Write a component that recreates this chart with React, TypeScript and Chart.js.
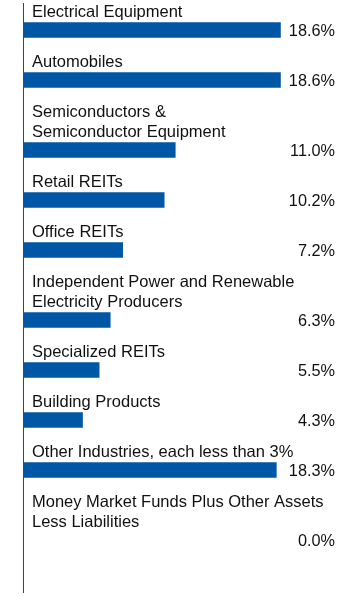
import React, { useEffect, useRef } from "react";
import { Chart, registerables } from "chart.js";

Chart.register(...registerables);

// ---- data ----
const categories: string[][] = [
  ["Electrical Equipment"],
  ["Automobiles"],
  ["Semiconductors &", "Semiconductor Equipment"],
  ["Retail REITs"],
  ["Office REITs"],
  ["Independent Power and Renewable", "Electricity Producers"],
  ["Specialized REITs"],
  ["Building Products"],
  ["Other Industries, each less than 3%"],
  ["Money Market Funds Plus Other Assets", "Less Liabilities"],
];
const values: number[] = [18.6, 18.6, 11.0, 10.2, 7.2, 6.3, 5.5, 4.3, 18.3, 0.0];
const valueLabels: string[] = ["18.6%", "18.6%", "11.0%", "10.2%", "7.2%", "6.3%", "5.5%", "4.3%", "18.3%", "0.0%"];

// ---- layout (in "label line" units) ----
const LABEL_OFFSET = 0.45;
const BAR_GAP = 0.9;
const BLOCK_GAP = 1.5;
const BOTTOM_SPACE = 1.45;
const X_MAX = 22.54;

function computeLayout() {
  const labelStarts: number[] = [];
  const barPositions: number[] = [];
  let start = 0;
  categories.forEach((lines) => {
    labelStarts.push(start);
    barPositions.push(start + LABEL_OFFSET + (lines.length - 1) + BAR_GAP);
    start += lines.length + BLOCK_GAP;
  });
  return { labelStarts, barPositions, total: start + BOTTOM_SPACE };
}

const LABEL_FONT = '16.5px "Liberation Sans", Arial, sans-serif';
const VALUE_FONT = '16.3px "Liberation Sans", Arial, sans-serif';

export default function App() {
  const ref = useRef<HTMLCanvasElement | null>(null);

  useEffect(() => {
    if (!ref.current) return;
    const { labelStarts, barPositions, total } = computeLayout();

    const labelPlugin = {
      id: "labels",
      afterDatasetsDraw(chart: any) {
        const { ctx, chartArea, scales } = chart;
        const y = scales.y;
        ctx.save();
        ctx.fillStyle = "#111";
        ctx.textBaseline = "middle";
        categories.forEach((lines, i) => {
          ctx.textAlign = "left";
          ctx.font = LABEL_FONT;
          lines.forEach((line, k) => {
            const py = y.getPixelForValue(labelStarts[i] + LABEL_OFFSET + k);
            ctx.fillText(line, chartArea.left + 9, py);
          });
          ctx.textAlign = "right";
          ctx.font = VALUE_FONT;
          const vy = y.getPixelForValue(barPositions[i]) + 1.5;
          ctx.fillText(valueLabels[i], chartArea.right, vy);
        });
        ctx.restore();
      },
    };

    const chart = new Chart(ref.current, {
      type: "bar",
      data: {
        datasets: [
          {
            data: values.map((v, i) => ({ x: v, y: barPositions[i] })),
            backgroundColor: "#0057A6",
            borderWidth: 0,
            barThickness: 15,
          },
        ],
      },
      options: {
        indexAxis: "y",
        animation: false,
        responsive: true,
        maintainAspectRatio: false,
        layout: { padding: { left: 23, top: 3, bottom: 5, right: 25 } },
        plugins: { legend: { display: false }, tooltip: { enabled: false } },
        scales: {
          x: { type: "linear", min: 0, max: X_MAX, display: false },
          y: {
            type: "linear",
            reverse: true,
            min: 0,
            max: total,
            offset: false,
            grace: 0,
            display: true,
            ticks: { display: false },
            grid: { display: false, drawTicks: false, offset: false },
            border: { display: true, color: "#444", width: 1 },
          },
        },
      },
      plugins: [labelPlugin],
    });
    return () => chart.destroy();
  }, []);

  return (
    <div style={{ position: "absolute", left: 0, top: 0, width: 360, height: 597 }}>
      <canvas ref={ref} />
    </div>
  );
}
